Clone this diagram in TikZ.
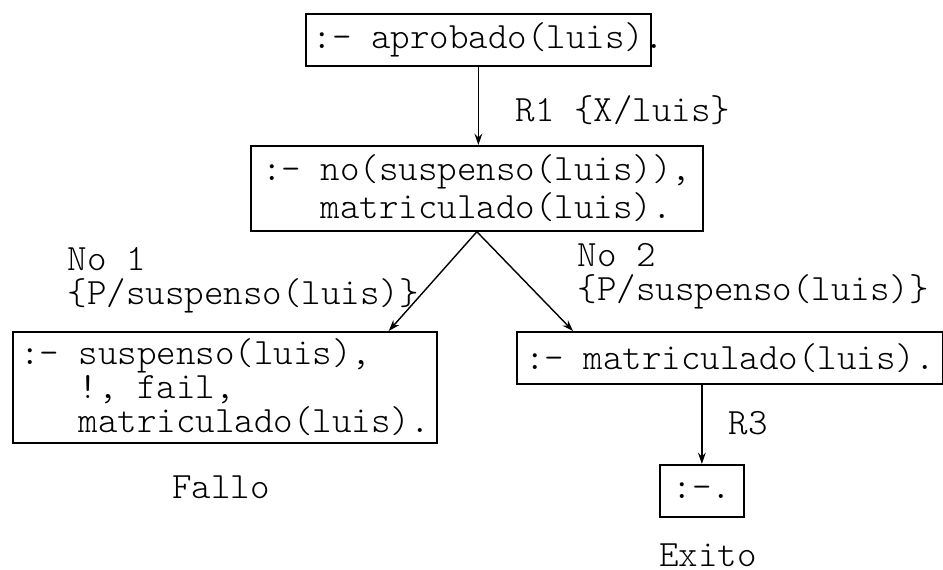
\documentclass[tikz,border=0pt]{standalone}
\usetikzlibrary{arrows.meta, calc, positioning}

\tikzset{
    goal/.style = {draw, rectangle, line width = 0.5pt, anchor = north west, align = left, inner sep = 0pt},
    note/.style = {anchor = west, align = left, inner sep = 0pt},
    link/.style = {-{Stealth[length = 3.2pt, width = 2.2pt]}, line width = 0.4pt},
}
\newcommand{\ind}{\hphantom{:- }}

\begin{document}
\begin{tikzpicture}[font = \ttfamily\fontseries{l}\fontsize{10.57}{9.6}\selectfont]%{{{
                \useasboundingbox (0, 0) rectangle (9.43, -5.70);

                \node (G0) [goal, minimum width = 3.45cm, minimum height = 0.52cm] at (3.05, -0.13) {:- aprobado(luis)\rlap{.}};
                \node (G1) [goal, minimum width = 4.52cm, minimum height = 0.85cm] at (2.50, -1.45) {:- no(suspenso(luis)),\\ \ind matriculado(luis).};
                \node (G2) [goal, minimum width = 4.24cm, minimum height = 1.11cm] at (0.12, -3.31) {:- suspenso(luis),\\ \ind !, fail,\\ \ind matriculado(luis).};
                \node (G3) [goal, minimum width = 4.26cm, minimum height = 0.52cm] at (5.16, -3.31) {:- matriculado(luis).};
                \node (G4) [goal, minimum width = 0.84cm, minimum height = 0.52cm] at (6.59, -4.64) {:-.};

                \node (R1) [note] at (5.15, -1.10) {R1 \{X/luis\}};
                \node (N1) [note] at (0.67, -2.80) {No 1\\\{P/suspenso(luis)\}};
                \node (N2) [note] at (5.77, -2.76) {No 2\\\{P/suspenso(luis)\}};
                \node (R3) [note] at (7.28, -4.23) {R3};
                \node (F) [note, anchor = center] at (2.21, -4.87) {Fallo};
                \node (E) [note, anchor = center] at (7.08, -5.55) {Exito};

                \draw [link] (G0.south) -- (G0.south |- G1.north);
                \draw [link] (G1.south) -- ($(G2.north east) + (-0.49, 0)$);
                \draw [link] (G1.south) -- ($(G3.north west) + (0.57, 0)$);
                \draw [link] (G4.north |- G3.south) -- (G4.north);
            \end{tikzpicture}
\end{document}
